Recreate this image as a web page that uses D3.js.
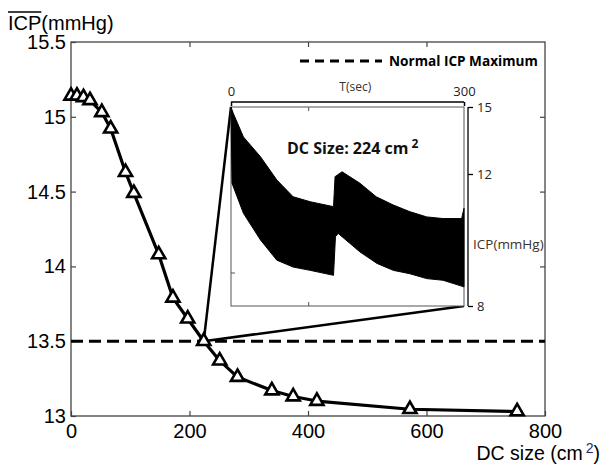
<!DOCTYPE html>
<html>
<head>
<meta charset="utf-8">
<script src="https://cdn.jsdelivr.net/npm/d3@7"></script>
<style>
  body { margin: 0; background: #fff; }
  svg { display: block; }
</style>
</head>
<body>
<div id="chart"></div>
<script>
// main curve: mean ICP vs decompressive craniectomy size
const dcSize = [0, 10, 21, 32, 52, 67, 92, 106, 148, 172, 197, 224, 251, 281, 339, 375, 415, 572, 753];
const icpMean = [15.14, 15.14, 15.13, 15.11, 15.03, 14.92, 14.63, 14.49, 14.08, 13.79, 13.65, 13.50,
                 13.37, 13.26, 13.17, 13.13, 13.10, 13.045, 13.03];
const xTicks = [0, 200, 400, 600, 800];
const yTicks = [13, 13.5, 14, 14.5, 15, 15.5];
const normalMax = 13.5;
const selectedDc = 224;

// inset trace (ICP over 300 s) read as upper / lower envelope of the oscillation
const upperT = [0, 3, 16, 38, 59, 80, 102, 132, 134, 143, 166, 187, 209, 230, 252, 273, 297, 300];
const upperV = [15.0, 14.71, 13.66, 12.77, 11.82, 11.31, 11.16, 11.01, 11.92, 12.10, 11.72, 11.31,
                11.06, 10.86, 10.70, 10.65, 10.65, 10.96];
const lowerT = [0, 1.3, 16, 38, 59, 80, 102, 132, 134.5, 138, 153, 166, 188, 209, 230, 252, 273, 300];
const lowerV = [15.0, 11.72, 10.81, 10.0, 9.39, 9.18, 9.08, 8.93, 10.10, 10.20, 9.90, 9.64, 9.29,
                9.08, 8.98, 8.83, 8.78, 8.58];
const insetTimeTicks = [0, 300];
const insetIcpTicks = [15, 12, 8];

const W = 603, H = 466;
const svg = d3.select('#chart').append('svg')
    .attr('width', W)
    .attr('height', H);

const x = d3.scaleLinear().domain([0, 800]).range([71, 545]);
const y = d3.scaleLinear().domain([13, 15.5]).range([416, 42]);

const axisFont = '"Liberation Sans", Arial, sans-serif';
const insetFont = '"Open Sans", sans-serif';

// frame
svg.append('rect')
    .attr('x', x(0)).attr('y', y(15.5))
    .attr('width', x(800) - x(0)).attr('height', y(13) - y(15.5))
    .attr('fill', 'none')
    .attr('stroke', '#444')
    .attr('stroke-width', 1.3);

function styleAxis(g) {
    g.select('.domain').remove();
    g.selectAll('.tick line').attr('stroke', '#444').attr('stroke-width', 1.2);
    g.selectAll('.tick text')
        .attr('fill', '#000')
        .style('font-family', axisFont)
        .style('font-size', '20px');
}

svg.append('g')
    .attr('transform', `translate(0,${y(13)})`)
    .call(d3.axisBottom(x).tickValues(xTicks).tickSizeInner(-5).tickSizeOuter(0).tickPadding(8))
    .call(styleAxis);

svg.append('g')
    .attr('transform', `translate(0,${y(15.5)})`)
    .call(d3.axisTop(x).tickValues(xTicks.slice(1, -1)).tickSizeInner(-5).tickSizeOuter(0).tickFormat(''))
    .call(styleAxis);

svg.append('g')
    .attr('transform', `translate(${x(0)},0)`)
    .call(d3.axisLeft(y).tickValues(yTicks).tickSizeInner(-5).tickSizeOuter(0).tickPadding(5)
        .tickFormat(d => String(d)))
    .call(styleAxis);

svg.append('g')
    .attr('transform', `translate(${x(800)},0)`)
    .call(d3.axisRight(y).tickValues(yTicks.slice(1, -1)).tickSizeInner(-5).tickSizeOuter(0).tickFormat(''))
    .call(styleAxis);

// y label with overline on ICP
const yLab = svg.append('text')
    .attr('x', 8).attr('y', 30)
    .style('font-family', axisFont)
    .style('font-size', '20px');
const icpPart = yLab.append('tspan').text('ICP');
yLab.append('tspan').text('(mmHg)');
const icpLen = icpPart.node().getComputedTextLength();
svg.append('line')
    .attr('x1', 8).attr('x2', 8 + icpLen)
    .attr('y1', 12).attr('y2', 12)
    .attr('stroke', '#000').attr('stroke-width', 1.3);

// x label
const xLab = svg.append('text')
    .attr('x', 600).attr('y', 460)
    .attr('text-anchor', 'end')
    .style('font-family', axisFont)
    .style('font-size', '19.5px');
xLab.append('tspan').text('DC size (cm');
xLab.append('tspan').text('2')
    .attr('dy', -7).attr('dx', 3)
    .style('font-size', '14px')
    .attr('fill', '#1c2a66');
xLab.append('tspan').text(')').attr('dy', 7);

// normal maximum line
svg.append('line')
    .attr('x1', x(0)).attr('x2', x(800))
    .attr('y1', y(normalMax)).attr('y2', y(normalMax))
    .attr('stroke', '#000')
    .attr('stroke-width', 3)
    .attr('stroke-dasharray', '12,6');

// legend
svg.append('line')
    .attr('x1', 300).attr('x2', 382)
    .attr('y1', 61).attr('y2', 61)
    .attr('stroke', '#000')
    .attr('stroke-width', 3)
    .attr('stroke-dasharray', '9,6');
svg.append('text')
    .attr('x', 389).attr('y', 66)
    .style('font-family', insetFont)
    .style('font-weight', 'bold')
    .style('font-size', '13.6px')
    .text('Normal ICP Maximum');

// inset scales
const xi = d3.scaleLinear().domain([0, 300]).range([231, 464]);
const yi = d3.scaleLinear().domain([8, 12, 15]).range([306, 174, 107]);

// connectors from selected point to the inset corners
const selIdx = dcSize.indexOf(selectedDc);
const px = x(dcSize[selIdx]), py = y(icpMean[selIdx]);
svg.append('line')
    .attr('x1', px).attr('y1', py)
    .attr('x2', xi(0)).attr('y2', yi(15))
    .attr('stroke', '#000').attr('stroke-width', 2.5);
svg.append('line')
    .attr('x1', px).attr('y1', py)
    .attr('x2', xi(300)).attr('y2', yi(8))
    .attr('stroke', '#000').attr('stroke-width', 2.5);

// main curve
const line = d3.line()
    .x((d, i) => x(dcSize[i]))
    .y(d => y(d));
svg.append('path')
    .datum(icpMean)
    .attr('d', line)
    .attr('fill', 'none')
    .attr('stroke', '#000')
    .attr('stroke-width', 3.2)
    .attr('stroke-linejoin', 'round');

svg.selectAll('.marker')
    .data(icpMean)
    .enter()
    .append('path')
    .attr('class', 'marker')
    .attr('d', d3.symbol(d3.symbolTriangle, 75))
    .attr('transform', (d, i) => `translate(${x(dcSize[i])},${y(d)})`)
    .attr('fill', '#fff')
    .attr('stroke', '#000')
    .attr('stroke-width', 2.6);

// inset
const inset = svg.append('g');

inset.append('rect')
    .attr('x', xi(0)).attr('y', yi(15))
    .attr('width', xi(300) - xi(0)).attr('height', yi(8) - yi(15))
    .attr('fill', '#fff')
    .attr('stroke', '#555')
    .attr('stroke-width', 1);

// inner ticks of inset box
inset.append('line')
    .attr('x1', xi(100)).attr('x2', xi(100))
    .attr('y1', yi(15)).attr('y2', yi(15) + 4)
    .attr('stroke', '#555');
inset.append('line')
    .attr('x1', xi(100)).attr('x2', xi(100))
    .attr('y1', yi(8)).attr('y2', yi(8) - 4)
    .attr('stroke', '#555');
inset.append('line')
    .attr('x1', xi(0)).attr('x2', xi(0) + 4)
    .attr('y1', yi(9)).attr('y2', yi(9))
    .attr('stroke', '#555');

// trace envelope
const tracePts = upperT.map((t, i) => [t, upperV[i]])
    .concat(lowerT.map((t, i) => [t, lowerV[i]]).reverse());
const traceLine = d3.line().x(d => xi(d[0])).y(d => yi(d[1]));
inset.append('path')
    .datum(tracePts)
    .attr('d', d => traceLine(d) + 'Z')
    .attr('fill', '#000')
    .attr('stroke', '#000')
    .attr('stroke-width', 1);

// top time axis
inset.append('g')
    .attr('transform', `translate(0,102)`)
    .call(d3.axisTop(xi).tickValues(insetTimeTicks).tickSizeInner(-4).tickSizeOuter(0).tickPadding(6))
    .call(g => {
        g.select('.domain').remove();
        g.selectAll('.tick line').attr('stroke', '#000').attr('stroke-width', 1.5);
        g.selectAll('.tick text').attr('fill', '#222')
            .style('font-family', insetFont).style('font-size', '13px');
    });
inset.append('line')
    .attr('x1', xi(0)).attr('x2', xi(300))
    .attr('y1', 102).attr('y2', 102)
    .attr('stroke', '#000').attr('stroke-width', 1.5);
inset.append('text')
    .attr('x', xi(160)).attr('y', 91)
    .attr('text-anchor', 'middle')
    .attr('fill', '#333')
    .style('font-family', insetFont)
    .style('font-size', '12px')
    .text('T(sec)');

// right ICP axis
inset.append('g')
    .attr('transform', `translate(468,0)`)
    .call(d3.axisRight(yi).tickValues(insetIcpTicks).tickSizeInner(5).tickSizeOuter(0).tickPadding(4)
        .tickFormat(d3.format('d')))
    .call(g => {
        g.select('.domain').remove();
        g.selectAll('.tick line').attr('stroke', '#000').attr('stroke-width', 1.3);
        g.selectAll('.tick text').attr('fill', '#222')
            .style('font-family', insetFont).style('font-size', '13px');
    });
inset.append('line')
    .attr('x1', 468).attr('x2', 468)
    .attr('y1', yi(15)).attr('y2', yi(8))
    .attr('stroke', '#000').attr('stroke-width', 1.3);
inset.append('text')
    .attr('x', 473).attr('y', 249)
    .attr('fill', '#3a3328')
    .style('font-family', insetFont)
    .style('font-size', '13.5px')
    .text('ICP(mmHg)');

// annotation
const ann = inset.append('text')
    .attr('x', 287).attr('y', 154)
    .style('font-family', insetFont)
    .style('font-weight', 'bold')
    .style('font-size', '16px')
    .attr('fill', '#111');
ann.append('tspan').text(`DC Size: ${selectedDc} cm`);
ann.append('tspan').text('2')
    .attr('dx', 3).attr('dy', -6)
    .style('font-size', '12px');
</script>
</body>
</html>
